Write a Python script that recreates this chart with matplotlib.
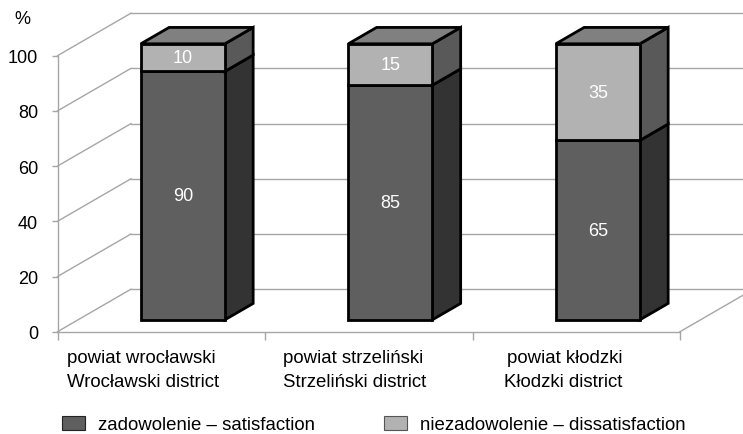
import matplotlib
matplotlib.use("Agg")
import matplotlib.pyplot as plt
from matplotlib.patches import Patch

plt.rcParams['font.family'] = ['Liberation Sans', 'DejaVu Sans']

# data
kategorie = ['powiat wrocławski\nWrocławski district',
             'powiat strzeliński\nStrzeliński district',
             'powiat kłodzki\nKłodzki district']
zadowolenie = [90, 85, 65]
niezadowolenie = [10, 15, 35]
y_ticks = [0, 20, 40, 60, 80, 100]

W, H = 743, 435
GRID = '#a6a6a6'
DARK, LIGHT = '#5f5f5f', '#b2b2b2'
SIDE_DARK, SIDE_LIGHT, TOP = '#333333', '#595959', '#808080'

# oblique depth, in data units
KX = 0.354
KY = 15.4
D0, D1 = 0.28, 0.665
BAR_W = 0.405
BAR_DX = 0.005


def proj(x, y, d):
    return x + d * KX, y + d * KY


def face(ax, pts, color):
    xs = [p[0] for p in pts]
    ys = [p[1] for p in pts]
    ax.fill(xs, ys, facecolor=color, edgecolor='black', linewidth=2,
            joinstyle='miter', clip_on=False, zorder=3)


def segment(ax, x, y0, y1, top=False):
    xl, xr = x - BAR_W / 2, x + BAR_W / 2
    col_front = DARK if not top else LIGHT
    col_side = SIDE_DARK if not top else SIDE_LIGHT
    face(ax, [proj(xr, y0, D0), proj(xr, y0, D1), proj(xr, y1, D1), proj(xr, y1, D0)], col_side)
    face(ax, [proj(xl, y0, D0), proj(xr, y0, D0), proj(xr, y1, D0), proj(xl, y1, D0)], col_front)
    if top:
        face(ax, [proj(xl, y1, D0), proj(xr, y1, D0), proj(xr, y1, D1), proj(xl, y1, D1)], TOP)
    cx, cy = proj(x, (y0 + y1) / 2, D0)
    ax.text(cx, cy, str(y1 - y0), color='white', fontsize=13, ha='center', va='center', zorder=4)


fig = plt.figure(figsize=(W / 100, H / 100), dpi=100)
ax = fig.add_axes([57.5 / W, 1 - 332.7 / H, 622.5 / W, 276 / H])
ax.set_xlim(-0.5, 2.5)
ax.set_ylim(0, 100)

for s in ['top', 'right']:
    ax.spines[s].set_visible(False)
for s in ['left', 'bottom']:
    ax.spines[s].set_color(GRID)
    ax.spines[s].set_linewidth(1)

ax.set_yticks(y_ticks)
ax.set_xticks([-0.5, 0.5, 1.5, 2.5])
ax.set_xticklabels([])
ax.tick_params(axis='y', length=4.5, width=1, color=GRID, labelsize=13, pad=9.5)
ax.tick_params(axis='x', length=6, width=1, color=GRID)

# walls
for t in y_ticks:
    bx, by = proj(-0.5, t, 1)
    ax.plot([-0.5, bx], [t, by], color=GRID, lw=1, clip_on=False, zorder=1)
    ax.plot([bx, 3.5], [by, by], color=GRID, lw=1, clip_on=False, zorder=1)
fx, fy = proj(2.5, 0, 1)
ax.plot([2.5, fx], [0, fy], color=GRID, lw=1, clip_on=False, zorder=1)

# bars
for i in range(len(kategorie)):
    segment(ax, i + BAR_DX, 0, zadowolenie[i])
    segment(ax, i + BAR_DX, zadowolenie[i], zadowolenie[i] + niezadowolenie[i], top=True)

# axis texts
fig.text(22 / W, 1 - 20 / H, '%', fontsize=13, ha='center', va='center')
label_x = [67, 283, 504]
for lab, px in zip(kategorie, label_x):
    align = 'right' if 'kłodzki' in lab else 'left'
    fig.text(px / W, 1 - 370.5 / H, lab, fontsize=13.4, ha='left', va='center',
             multialignment=align, linespacing=1.6)

handles = [Patch(facecolor=DARK, edgecolor='#222222', linewidth=0.8),
           Patch(facecolor=LIGHT, edgecolor='#555555', linewidth=0.8)]
fig.legend(handles, ['zadowolenie – satisfaction', 'niezadowolenie – dissatisfaction'],
           ncol=2, frameon=False, fontsize=13.4, loc='lower left',
           bbox_to_anchor=(62 / W, 0.5 / H), borderaxespad=0, borderpad=0,
           handlelength=1.24, handleheight=0.83, handletextpad=0.7, columnspacing=3.7)

fig.savefig('out.png', dpi=100)
